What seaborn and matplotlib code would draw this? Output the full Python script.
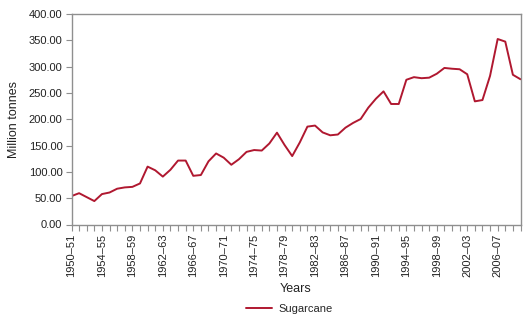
import matplotlib
matplotlib.use("Agg")
import matplotlib.pyplot as plt
import seaborn as sns
import pandas as pd
from matplotlib.lines import Line2D

years = [
    "1950–51", "1951–52", "1952–53", "1953–54", "1954–55", "1955–56", "1956–57", "1957–58",
    "1958–59", "1959–60", "1960–61", "1961–62", "1962–63", "1963–64", "1964–65", "1965–66",
    "1966–67", "1967–68", "1968–69", "1969–70", "1970–71", "1971–72", "1972–73", "1973–74",
    "1974–75", "1975–76", "1976–77", "1977–78", "1978–79", "1979–80", "1980–81", "1981–82",
    "1982–83", "1983–84", "1984–85", "1985–86", "1986–87", "1987–88", "1988–89", "1989–90",
    "1990–91", "1991–92", "1992–93", "1993–94", "1994–95", "1995–96", "1996–97", "1997–98",
    "1998–99", "1999–00", "2000–01", "2001–02", "2002–03", "2003–04", "2004–05", "2005–06",
    "2006–07", "2007–08", "2008–09", "2009–10",
]
sugarcane = [
    54.0, 59.5, 52.0, 44.5, 57.8, 60.8, 68.0, 70.5, 71.5, 78.0,
    110.0, 103.0, 91.0, 104.0, 121.5, 121.5, 92.5, 94.0, 120.0, 135.0,
    127.0, 113.5, 124.0, 138.0, 141.5, 140.5, 154.0, 174.5, 151.0, 130.0,
    156.0, 186.0, 188.0, 175.0, 169.5, 171.0, 184.0, 193.0, 200.5, 222.0,
    239.0, 253.0, 229.0, 229.0, 275.0, 280.0, 278.0, 279.0, 286.5, 297.5,
    296.0, 295.0, 285.5, 234.0, 236.5, 282.5, 352.5, 347.5, 284.5, 276.0,
]
series_name = "Sugarcane"
y_ticks = [0, 50, 100, 150, 200, 250, 300, 350, 400]

df = pd.DataFrame({"Years": years, "Production": sugarcane, "Series": series_name})

sns.set_theme(style="white")
plt.rcParams["font.family"] = ["Liberation Sans", "DejaVu Sans"]

fig = plt.figure(figsize=(5.30, 3.25), dpi=100)
ax = fig.add_axes([71.5 / 530, 1 - 224.5 / 325, (520.5 - 71.5) / 530, (224.5 - 14) / 325])

line_color = "#B01830"
sns.lineplot(data=df, x="Years", y="Production", hue="Series", palette=[line_color],
             sort=False, linewidth=1.4, ax=ax, legend=False)

axis_color = "#8f8f8f"
for s in ax.spines.values():
    s.set_visible(True)
    s.set_color(axis_color)
    s.set_linewidth(1.0)

ax.set_xlim(0, len(years) - 1)
ax.set_ylim(0, 400)
ax.set_yticks(y_ticks)
ax.set_yticklabels([f"{v:.2f}" for v in y_ticks], fontsize=8, color="#222222")
ax.set_xticks(range(len(years)))
ax.set_xticklabels([y if i % 4 == 0 else "" for i, y in enumerate(years)],
                   rotation=90, fontsize=8, color="#222222")
ax.tick_params(axis="both", which="major", direction="out", length=4, width=0.8,
               color=axis_color, pad=2.5, bottom=True, left=True)
ax.grid(False)

ax.set_xlabel("Years", fontsize=9, color="#222222", labelpad=4)
ax.set_ylabel("Million tonnes", fontsize=9, color="#222222", labelpad=6)

handle = Line2D([], [], color=line_color, linewidth=1.4)
fig.legend([handle], [series_name], loc="center", bbox_to_anchor=(289 / 530, 1 - 309 / 325),
           frameon=False, fontsize=8, handlelength=2.4, handletextpad=0.5)

fig.savefig("out.png", dpi=100)
